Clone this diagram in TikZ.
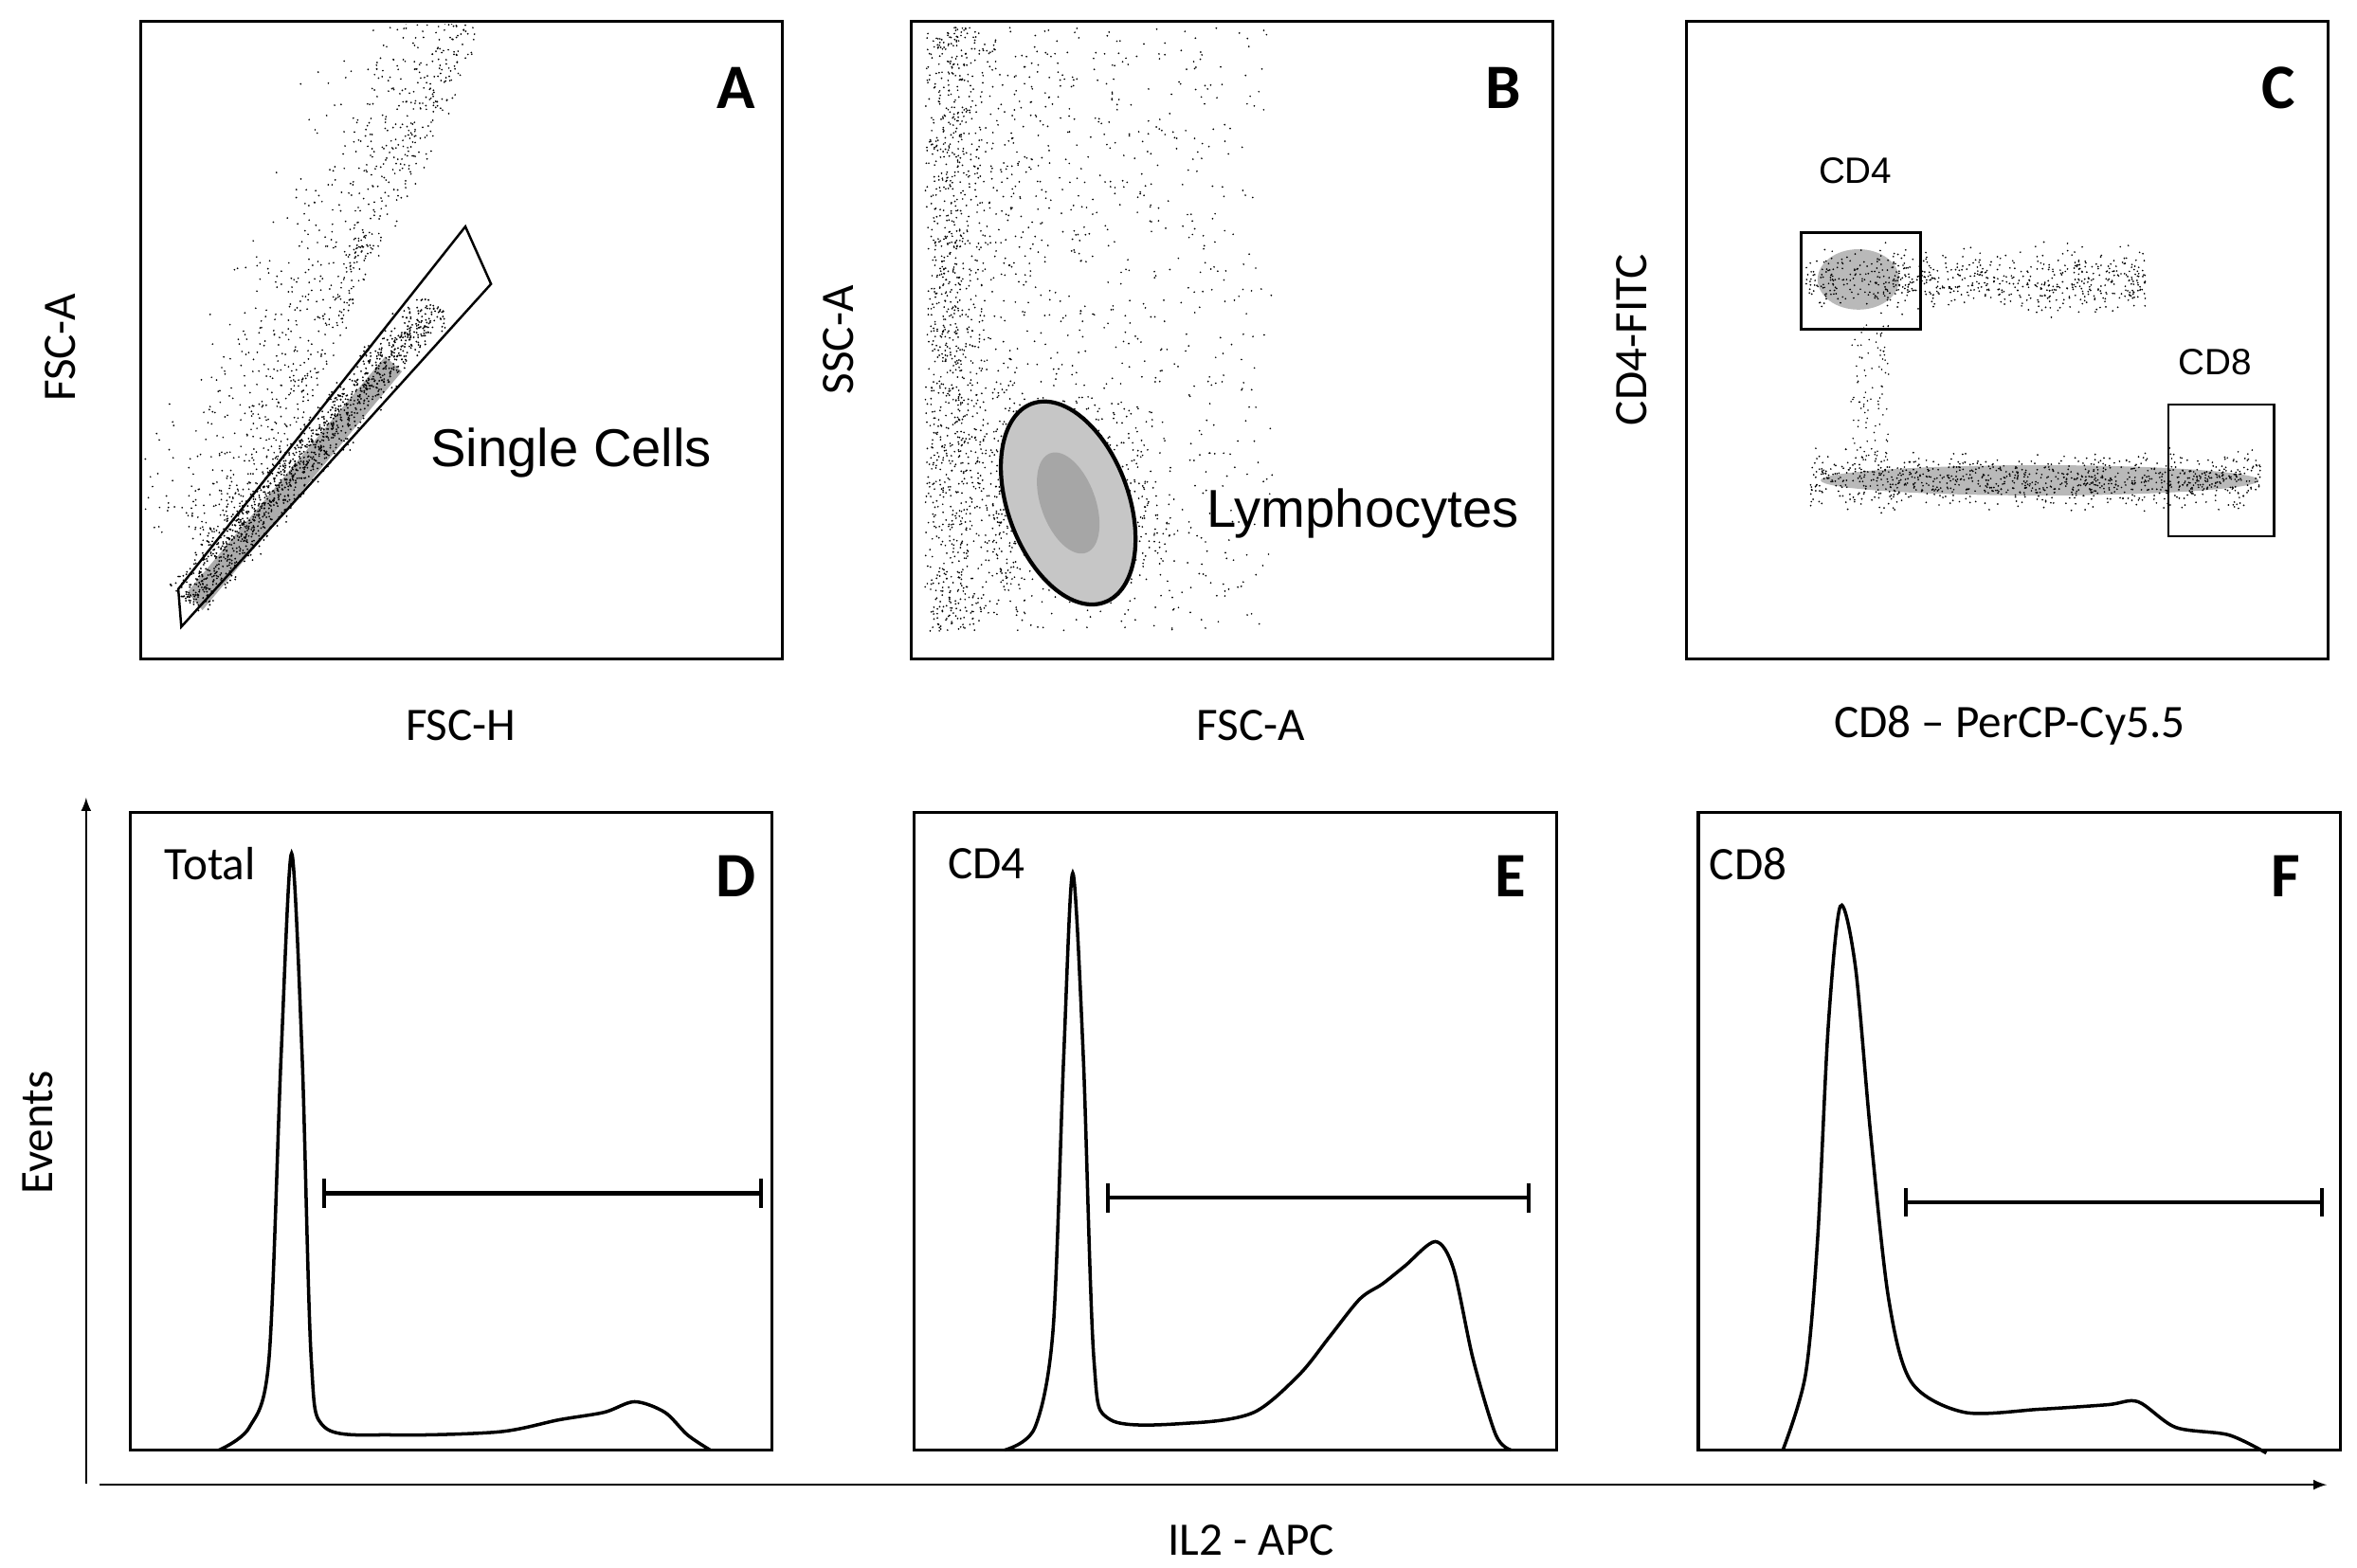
\documentclass[tikz,border=0pt]{standalone}
\usepackage{fontspec}
\setmainfont{Carlito}
\newfontfamily\arialf{Liberation Sans}
\usetikzlibrary{positioning}
\tikzset{
  panel/.style  = {draw, line width=0.9pt, inner sep=0pt, outer sep=0pt},
  letter/.style = {font=\fontsize{19}{21}\selectfont\bfseries},
  axlab/.style  = {font=\fontsize{14}{16}\selectfont},
  plotlab/.style= {font=\arialf\fontsize{16}{18}\selectfont},
  gatelab/.style= {font=\arialf\fontsize{11}{13}\selectfont},
  histlab/.style= {font=\fontsize{14}{16}\selectfont},
  gate/.style   = {draw, line width=0.7pt},
  curve/.style  = {line width=1pt, smooth, tension=0.5},
  bar/.style    = {line width=1.2pt, |-|}
}
\begin{document}
\begin{tikzpicture}[x=0.01594cm, y=-0.01594cm, >=latex]
\useasboundingbox (0,0) rectangle (1560,1038);
\pgfmathsetseed{7}

% scatter panels, top row
\node[panel, minimum width=425*0.01594cm, minimum height=422*0.01594cm, anchor=north west] (pa) at (93,14) {};
\node[panel, minimum width=425*0.01594cm, minimum height=422*0.01594cm, anchor=north west] (pb) at (603,14) {};
\node[panel, minimum width=425*0.01594cm, minimum height=422*0.01594cm, anchor=north west] (pc) at (1116,14) {};

% panel A dots
\begin{scope}
\clip (95,16) rectangle (515,434);
\fill[gray!65] (124,392) -- (255,236) -- (266,246) -- (134,404) -- cycle;
\foreach \i in {1,...,1300}{
  \pgfmathsetmacro{\t}{rnd}
  \pgfmathsetmacro{\s}{(rnd+rnd+rnd-1.5)*14}
  \fill ({123+165*\t+\s*0.77}, {398-197*\t+\s*0.64}) circle (0.65);
}
\foreach \i in {1,...,1000}{
  \pgfmathsetmacro{\t}{rnd}
  \pgfmathsetmacro{\s}{rnd*rnd*80}
  \fill ({140+165*\t-\s+20*rnd}, {370-350*\t-\s*0.4}) circle (0.6);
}
\end{scope}
\draw[gate] (118,390) -- (308,150) -- (325,188) -- (120,415) -- cycle;
\node[plotlab] (sc) at (378,300) {Single Cells};

% panel B dots
\foreach \i in {1,...,2200}{
  \pgfmathsetmacro{\u}{rnd}
  \fill ({612+210*\u*\u*\u+25*rnd}, {18+400*rnd}) circle (0.6);
}
\foreach \i in {1,...,500}{
  \pgfmathsetmacro{\s}{(rnd+rnd-1)*60}
  \fill ({707+\s*0.35+(rnd-0.5)*120}, {333+\s*1.2+(rnd-0.5)*30}) circle (0.6);
}
\fill[gray!45, rotate around={20:(707,333)}] (707,333) ellipse (40 and 70);
\fill[gray!70, rotate around={20:(707,333)}] (707,333) ellipse (18 and 35);
\draw[gate, line width=1.2pt, rotate around={20:(707,333)}] (707,333) ellipse (40 and 70);
\node[plotlab] (ly) at (902,340) {Lymphocytes};

% panel C dots
\fill[gray!55] (1230,185) ellipse (27 and 20);
\fill[gray!55] (1350,318) ellipse (145 and 10);
\foreach \i in {1,...,700}{
  \pgfmathsetmacro{\s}{(rnd+rnd+rnd-1.5)*18}
  \fill ({1195+225*rnd}, {185+\s}) circle (0.6);
}
\foreach \i in {1,...,1000}{
  \pgfmathsetmacro{\s}{(rnd+rnd+rnd-1.5)*16}
  \fill ({1198+298*rnd}, {318+\s}) circle (0.6);
}
\foreach \i in {1,...,100}{
  \fill ({1225+25*rnd}, {215+90*rnd}) circle (0.55);
}
\draw[gate] (1192,154) rectangle (1271,218);
\draw[gate] (1435,268) rectangle (1505,355);
\node[gatelab] (l4) at (1228,113) {CD4};
\node[gatelab] (l8) at (1466,240) {CD8};

\node[letter] (la) at (487,58) {A};
\node[letter] (lb) at (995,58) {B};
\node[letter] (lc) at (1508,58) {C};

\node[axlab, rotate=90] (ya) at (40,230) {FSC-A};
\node[axlab] (xa) at (305,480) {FSC-H};
\node[axlab, rotate=90] (yb) at (555,225) {SSC-A};
\node[axlab] (xb) at (828,480) {FSC-A};
\node[axlab, rotate=90] (yc) at (1080,225) {CD4-FITC};
\node[axlab] (xc) at (1330,480) {CD8 -- PerCP-Cy5.5};

% histogram panels
\node[panel, minimum width=425*0.01594cm, minimum height=422*0.01594cm, anchor=north west] (pd) at (86,538) {};
\node[panel, minimum width=425*0.01594cm, minimum height=422*0.01594cm, anchor=north west] (pe) at (605,538) {};
\node[panel, minimum width=425*0.01594cm, minimum height=422*0.01594cm, anchor=north west] (pf) at (1124,538) {};

\draw[curve] plot coordinates {(145,960) (165,945) (178,900) (186,700) (193,565) (200,700) (206,900) (215,945) (260,950) (330,948) (370,940) (400,935) (420,928) (440,935) (455,950) (470,960)};
\draw[curve] plot coordinates {(665,960) (685,945) (697,880) (704,700) (710,578) (717,700) (724,900) (735,940) (790,942) (830,935) (860,910) (880,885) (900,860) (915,850) (930,838) (950,822) (962,840) (975,900) (990,950) (1000,960)};
\draw[curve] plot coordinates {(1180,960) (1195,910) (1203,820) (1210,680) (1218,600) (1228,640) (1238,750) (1250,860) (1265,915) (1300,935) (1350,933) (1395,930) (1415,928) (1440,945) (1475,950) (1500,962)};

\draw[bar] (213,790) -- (505,790);
\draw[bar] (732,793) -- (1013,793);
\draw[bar] (1260,796) -- (1538,796);

\node[histlab] (ht) at (139,572) {Total};
\node[histlab] (h4) at (653,572) {CD4};
\node[histlab] (h8) at (1157,572) {CD8};
\node[letter] (ld) at (487,580) {D};
\node[letter] (le) at (1000,580) {E};
\node[letter] (lf) at (1513,580) {F};

% axes
\coordinate (yo) at (57,982);
\coordinate (yt) at (57,528);
\coordinate (xo) at (66,983);
\coordinate (xt) at (1540,983);
\draw[->] (yo) -- (yt);
\draw[->] (xo) -- (xt);
\node[axlab, rotate=90] (ev) at (25,750) {Events};
\node[axlab] (il) at (828,1020) {IL2 - APC};
\end{tikzpicture}
\end{document}
